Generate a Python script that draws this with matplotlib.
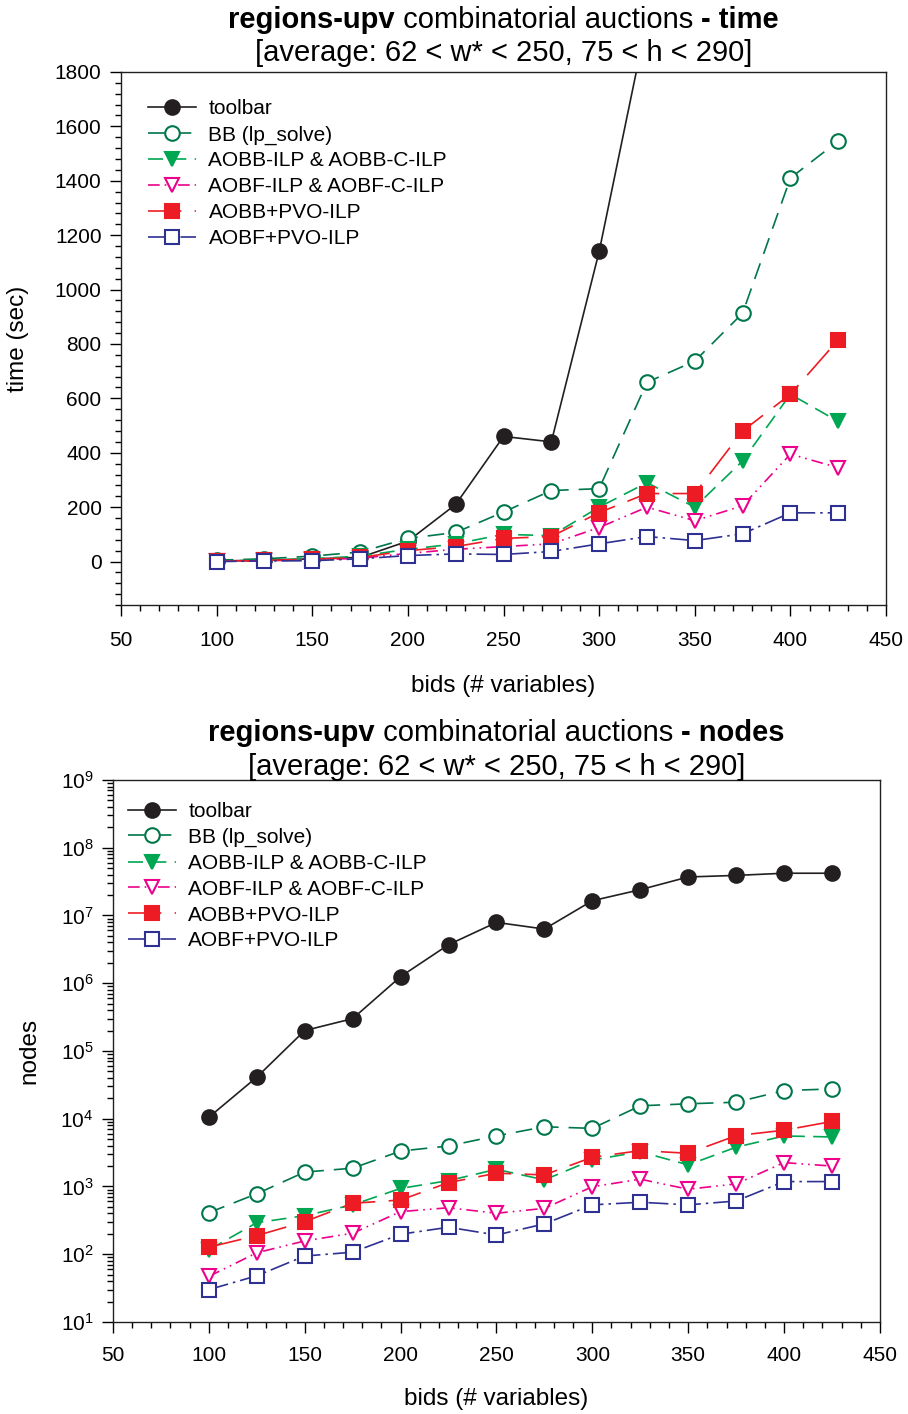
import matplotlib
matplotlib.use("Agg")
import matplotlib.pyplot as plt
from matplotlib.ticker import MultipleLocator, LogLocator

plt.rcParams['font.family'] = ['Liberation Sans', 'DejaVu Sans']
plt.rcParams['mathtext.default'] = 'regular'

bids = [100, 125, 150, 175, 200, 225, 250, 275, 300, 325, 350, 375, 400, 425]

# time (sec)
toolbar_time = [2, 5, 10, 15, 75, 210, 460, 440, 1140, 1990]
bb_time = [5, 10, 20, 35, 85, 107, 182, 261, 268, 659, 737, 913, 1410, 1546]
aobb_ilp_time = [2, 5, 10, 20, 45, 65, 100, 95, 200, 290, 200, 370, 615, 515]
aobf_ilp_time = [1, 3, 6, 12, 30, 45, 55, 65, 125, 200, 150, 205, 395, 345]
aobb_pvo_time = [1, 4, 8, 15, 40, 55, 85, 92, 180, 250, 250, 480, 615, 815]
aobf_pvo_time = [0, 2, 3, 10, 22, 28, 26, 37, 65, 92, 77, 102, 179, 179]

# nodes
toolbar_nodes = [1.05e4, 4.1e4, 2.0e5, 3.0e5, 1.25e6, 3.7e6, 7.9e6, 6.3e6, 1.65e7, 2.4e7, 3.7e7, 3.9e7, 4.2e7, 4.2e7]
bb_nodes = [410, 780, 1630, 1860, 3330, 3960, 5580, 7600, 7200, 15500, 16600, 17500, 26000, 27500]
aobb_ilp_nodes = [116, 292, 370, 535, 935, 1220, 1790, 1250, 2460, 3250, 2080, 3800, 5560, 5380]
aobf_ilp_nodes = [47, 105, 157, 204, 425, 485, 402, 475, 990, 1280, 910, 1090, 2250, 2000]
aobb_pvo_nodes = [127, 188, 302, 565, 630, 1140, 1570, 1480, 2700, 3380, 3090, 5620, 6760, 9100]
aobf_pvo_nodes = [30, 48, 94, 107, 197, 250, 192, 280, 535, 585, 535, 610, 1180, 1180]

labels = ["toolbar", "BB (lp_solve)", "AOBB-ILP & AOBB-C-ILP",
          "AOBF-ILP & AOBF-C-ILP", "AOBB+PVO-ILP", "AOBF+PVO-ILP"]

styles = [
    dict(color="#231f20", ls="-", marker="o", mfc="#231f20", ms=10.5),
    dict(color="#00774a", ls=(0, (10, 6)), marker="o", mfc="white", ms=10.5),
    dict(color="#00a651", ls=(0, (9, 5)), marker="v", mfc="#00a651", ms=10.5),
    dict(color="#ec008c", ls=(0, (7, 3, 1, 3, 1, 3)), marker="v", mfc="white", ms=10.5),
    dict(color="#ed1c24", ls=(0, (20, 8)), marker="s", mfc="#ed1c24", ms=9.5),
    dict(color="#2e3192", ls=(0, (12, 3, 1.5, 3)), marker="s", mfc="white", ms=9.5),
]

fig = plt.figure(figsize=(9.08, 14.14), dpi=100)
ax1 = fig.add_axes([0.1333, 0.5721, 0.8425, 0.3770])
ax2 = fig.add_axes([0.1244, 0.0651, 0.8447, 0.3833])

time_series = [toolbar_time, bb_time, aobb_ilp_time, aobf_ilp_time, aobb_pvo_time, aobf_pvo_time]
node_series = [toolbar_nodes, bb_nodes, aobb_ilp_nodes, aobf_ilp_nodes, aobb_pvo_nodes, aobf_pvo_nodes]

for vals, lab, st in zip(time_series, labels, styles):
    ax1.plot(bids[:len(vals)], vals, color=st["color"], linestyle=st["ls"], lw=1.2,
             marker=st["marker"], mfc=st["mfc"], mec=st["color"], mew=1.5,
             ms=st["ms"], label=lab)
for vals, lab, st in zip(node_series, labels, styles):
    ax2.plot(bids, vals, color=st["color"], linestyle=st["ls"], lw=1.2,
             marker=st["marker"], mfc=st["mfc"], mec=st["color"], mew=1.5,
             ms=st["ms"], label=lab)

ax1.set_xlim(50, 450)
ax1.set_ylim(-160, 1800)
ax1.xaxis.set_major_locator(MultipleLocator(50))
ax1.xaxis.set_minor_locator(MultipleLocator(10))
ax1.yaxis.set_major_locator(MultipleLocator(200))
ax1.yaxis.set_minor_locator(MultipleLocator(40))

ax2.set_xlim(50, 450)
ax2.set_yscale("log")
ax2.set_ylim(10, 1e9)
ax2.xaxis.set_major_locator(MultipleLocator(50))
ax2.xaxis.set_minor_locator(MultipleLocator(10))
ax2.yaxis.set_major_locator(LogLocator(base=10, numticks=20))
ax2.yaxis.set_minor_locator(LogLocator(base=10, subs=range(2, 10), numticks=20))

for ax in (ax1, ax2):
    ax.tick_params(which="major", direction="out", length=8, width=1, labelsize=15, pad=6)
    ax.tick_params(which="minor", direction="out", length=4, width=1)
    for s in ax.spines.values():
        s.set_linewidth(1.0)
        s.set_color("#231f20")
ax1.tick_params(axis="x", pad=11)
ax2.tick_params(axis="x", pad=9)

ax1.set_xlabel("bids (# variables)", fontsize=17.5)
ax1.set_ylabel("time (sec)", fontsize=17.5)
ax1.xaxis.set_label_coords(0.5, -0.131)
ax1.yaxis.set_label_coords(-0.12, 0.5)
ax2.set_xlabel("bids (# variables)", fontsize=17.5)
ax2.set_ylabel("nodes", fontsize=17.5)
ax2.xaxis.set_label_coords(0.5, -0.122)
ax2.yaxis.set_label_coords(-0.095, 0.5)

ax1.legend(loc="upper left", bbox_to_anchor=(0.025, 0.964), frameon=False, fontsize=15,
           handlelength=2.3, handletextpad=0.58, labelspacing=0.33, borderaxespad=0)
ax2.legend(loc="upper left", bbox_to_anchor=(0.009, 0.975), frameon=False, fontsize=15,
           handlelength=2.3, handletextpad=0.58, labelspacing=0.33, borderaxespad=0)


def mixed_title(pieces, xc, y, size):
    renderer = fig.canvas.get_renderer()
    texts = []
    widths = []
    for s, w in pieces:
        t = fig.text(0, y, s, fontsize=size, fontweight=w, va="center", ha="left")
        texts.append(t)
        widths.append(t.get_window_extent(renderer).width)
    total = sum(widths)
    x = xc * fig.bbox.width - total / 2
    for t, w in zip(texts, widths):
        t.set_x(x / fig.bbox.width)
        x += w


fig.canvas.draw()
xc1 = (121 + 886) / 2 / 908
xc2 = (113 + 880) / 2 / 908
mixed_title([("regions-upv", "bold"), (" combinatorial auctions ", "normal"), ("- time", "bold")],
            xc1, 1 - 20 / 1414, 21)
fig.text(xc1, 1 - 53 / 1414, "[average: 62 < w* < 250, 75 < h < 290]", fontsize=21,
         ha="center", va="center")
mixed_title([("regions-upv", "bold"), (" combinatorial auctions ", "normal"), ("- nodes", "bold")],
            xc2, 1 - 733 / 1414, 21)
fig.text(xc2, 1 - 767 / 1414, "[average: 62 < w* < 250, 75 < h < 290]", fontsize=21,
         ha="center", va="center")

fig.savefig("out.png", dpi=100)
